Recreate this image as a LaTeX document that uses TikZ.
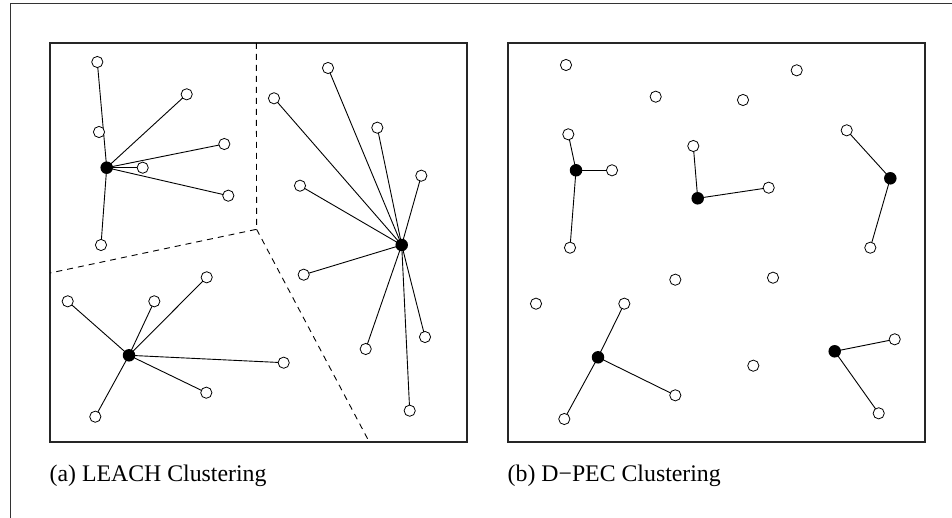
\documentclass[tikz,border=0pt]{standalone}
\usepackage{fontspec}
\setmainfont{Liberation Serif}
\usetikzlibrary{backgrounds}
\tikzset{
  sensor/.style={circle, draw=black, fill=white, line width=0.8pt, inner sep=0pt, minimum size=11.2pt},
  head/.style={circle, fill=black, inner sep=0pt, minimum size=12.5pt},
  link/.style={line width=0.9pt},
  panel/.style={line width=1.1pt, draw=black!85},
  border/.style={dash pattern=on 6pt off 5pt, line width=0.9pt},
  caption/.style={anchor=base west, inner sep=0pt, font=\fontsize{23.8}{28}\selectfont}
}
\begin{document}
\begin{tikzpicture}[x=1pt, y=-1pt]
\useasboundingbox (0,0) rectangle (952,518);
% outer frame (top and left edges)
\draw[line width=1pt, black!80] (10.5,518) -- (10.5,4) -- (952,4);

% ---------- (a) LEACH ----------
\draw[panel] (50,43) rectangle (467,442);
\coordinate (vtop) at (256.3,43);
\coordinate (jn) at (256.6,229.3);
\coordinate (wl) at (50,273);
\coordinate (bt) at (369.3,442);
\draw[border] (vtop) -- (jn) -- (wl);
\draw[border] (jn) -- (bt);

\node[head] (ha) at (106.7,167.7) {};
\node[sensor] (a1) at (97.3,62) {};
\node[sensor] (a2) at (186.7,94.3) {};
\node[sensor] (a3) at (99,132) {};
\node[sensor] (a4) at (224.3,144) {};
\node[sensor] (a5) at (142.7,167.7) {};
\node[sensor] (a6) at (228.3,195.7) {};
\node[sensor] (a7) at (101,245) {};

\node[head] (hb) at (401.7,245) {};
\node[sensor] (b1) at (328,68) {};
\node[sensor] (b2) at (274,98.3) {};
\node[sensor] (b3) at (377.3,127.7) {};
\node[sensor] (b4) at (421.3,175.7) {};
\node[sensor] (b5) at (300,185.7) {};
\node[sensor] (b6) at (303.7,274.7) {};
\node[sensor] (b7) at (365.7,349) {};
\node[sensor] (b8) at (425,337) {};
\node[sensor] (b9) at (409.7,410.7) {};

\node[head] (hc) at (129,355.3) {};
\node[sensor] (c1) at (67.7,301.3) {};
\node[sensor] (c2) at (154.3,301.3) {};
\node[sensor] (c3) at (206.7,277.3) {};
\node[sensor] (c4) at (283.7,362.7) {};
\node[sensor] (c5) at (206.3,392.7) {};
\node[sensor] (c6) at (95.3,416.7) {};

\begin{scope}[on background layer]
  \foreach \n in {a1,a2,a4,a5,a6,a7} \draw[link] (ha.center) -- (\n.center);
  \foreach \n in {b1,b2,b3,b4,b5,b6,b7,b8,b9} \draw[link] (hb.center) -- (\n.center);
  \foreach \n in {c1,c2,c3,c4,c5,c6} \draw[link] (hc.center) -- (\n.center);
\end{scope}

\node[caption] (capa) at (49.5,481) {(a) LEACH Clustering};

% ---------- (b) D-PEC ----------
\draw[panel] (508,43) rectangle (925,442);

\node[sensor] (s1) at (566,65) {};
\node[sensor] (s2) at (655.7,96.7) {};
\node[sensor] (s3) at (743,100) {};
\node[sensor] (s4) at (796.7,70.3) {};
\node[sensor] (s5) at (675.3,279.7) {};
\node[sensor] (s6) at (773,277.7) {};
\node[sensor] (s7) at (536,303.7) {};
\node[sensor] (s8) at (753.3,365.7) {};

\node[head] (hd) at (576,170.3) {};
\node[sensor] (d1) at (568.3,134.3) {};
\node[sensor] (d2) at (612,170.3) {};
\node[sensor] (d3) at (570,247.7) {};

\node[head] (he) at (697.7,198.3) {};
\node[sensor] (e1) at (693.3,146) {};
\node[sensor] (e2) at (768.7,187.7) {};

\node[head] (hf) at (890.3,178.3) {};
\node[sensor] (f1) at (846.7,130.3) {};
\node[sensor] (f2) at (870.3,247.7) {};

\node[head] (hg) at (598,357.3) {};
\node[sensor] (g1) at (624.3,303.7) {};
\node[sensor] (g2) at (675.3,395.3) {};
\node[sensor] (g3) at (564.3,419) {};

\node[head] (hh) at (834.7,351.3) {};
\node[sensor] (h1) at (894.7,339.3) {};
\node[sensor] (h2) at (878.7,413.3) {};

\begin{scope}[on background layer]
  \foreach \n in {d1,d2,d3} \draw[link] (hd.center) -- (\n.center);
  \foreach \n in {e1,e2} \draw[link] (he.center) -- (\n.center);
  \foreach \n in {f1,f2} \draw[link] (hf.center) -- (\n.center);
  \foreach \n in {g1,g2,g3} \draw[link] (hg.center) -- (\n.center);
  \foreach \n in {h1,h2} \draw[link] (hh.center) -- (\n.center);
\end{scope}

\node[caption] (capb) at (507.5,481) {(b) D−PEC Clustering};
\end{tikzpicture}
\end{document}
